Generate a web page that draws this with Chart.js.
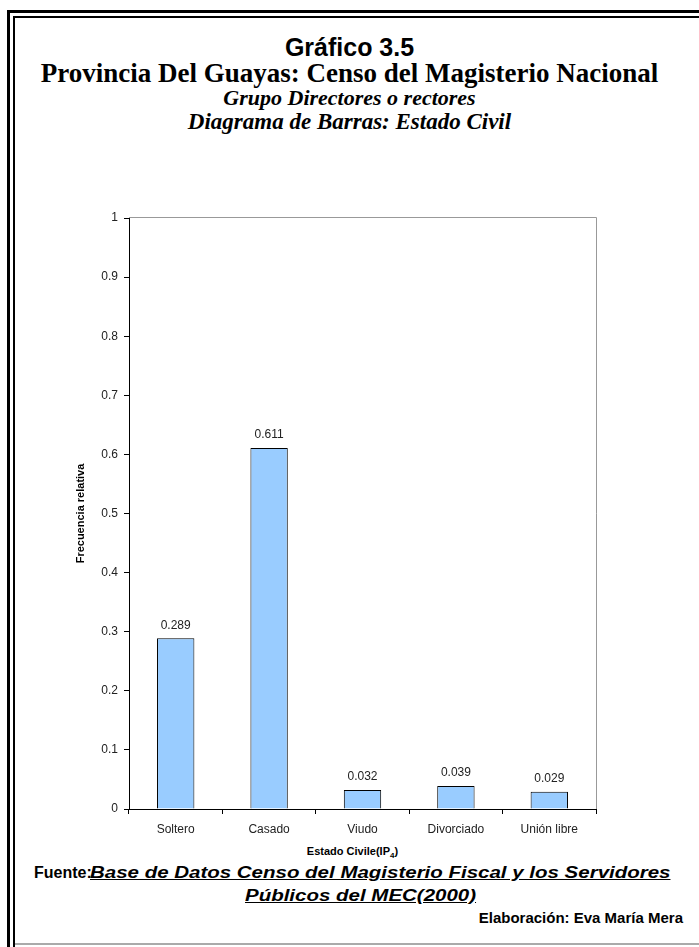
<!DOCTYPE html>
<html>
<head>
<meta charset="utf-8">
<script src="https://cdn.jsdelivr.net/npm/chart.js@4/dist/chart.umd.min.js"></script>
<style>
html, body { margin: 0; background: #fff; overflow: hidden; }
body { width: 699px; height: 947px; position: relative; }
.frame-out { position: absolute; left: 7px; top: 10px; width: 689px; height: 937px; border-left: 3px solid #000; border-top: 3px solid #000; }
.frame-in { position: absolute; left: 13px; top: 16px; width: 684px; height: 931px; border-left: 2px solid #000; border-top: 2px solid #000; }
.bottom-line { position: absolute; left: 15px; top: 943px; width: 684px; height: 0; border-top: 2px solid #aaa; }
.t { position: absolute; left: 0; width: 699px; text-align: center; color: #000; white-space: nowrap; }
.arial { font-family: "Liberation Sans", Arial, sans-serif; }
.times { font-family: "Liberation Serif", "Times New Roman", serif; }
.src { position: absolute; white-space: nowrap; font-family: "Liberation Sans", Arial, sans-serif; font-size: 16px; font-weight: bold; font-style: italic; text-decoration: underline; transform-origin: 0 0; transform: scaleX(1.28); }
#wrap { position: absolute; left: 40px; top: 200px; width: 580px; height: 639px; }
</style>
</head>
<body>
<div class="frame-out"></div>
<div class="frame-in"></div>
<div class="bottom-line"></div>

<div class="t arial" style="top:33px;font-size:25px;font-weight:bold;">Gráfico 3.5</div>
<div class="t times" style="top:58px;font-size:27px;line-height:31px;font-weight:bold;">Provincia Del Guayas: Censo del Magisterio Nacional</div>
<div class="t times" style="top:85px;font-size:22px;font-weight:bold;font-style:italic;">Grupo Directores o rectores</div>
<div class="t times" style="top:109px;font-size:23px;font-weight:bold;font-style:italic;">Diagrama de Barras: Estado Civil</div>

<div id="wrap"><canvas id="chart" width="580" height="639"></canvas></div>

<div class="t arial" style="top:845px;left:3px;font-size:11px;font-weight:bold;">Estado Civile(IP<sub style="font-size:8px;">4</sub>)</div>

<div class="arial" style="position:absolute;left:34px;top:864px;font-size:16px;font-weight:bold;">Fuente:</div>
<div class="src" style="left:90px;top:864px;">Base de Datos Censo del Magisterio Fiscal y los Servidores</div>
<div class="src" style="left:245px;top:887px;">Públicos del MEC(2000)</div>
<div class="t arial" style="top:909px;left:0;width:683px;text-align:right;font-size:15px;font-weight:bold;">Elaboración: Eva María Mera</div>

<script>
var categories = ["Soltero", "Casado", "Viudo", "Divorciado", "Unión libre"];
var frecuencias = [0.289, 0.611, 0.032, 0.039, 0.029];
var yTicks = [0, 0.1, 0.2, 0.3, 0.4, 0.5, 0.6, 0.7, 0.8, 0.9, 1];

// gray plot-area border (top and right)
var plotBorder = {
  id: 'plotBorder',
  beforeDraw: function(chart) {
    var a = chart.chartArea, c = chart.ctx;
    c.save();
    c.strokeStyle = '#999';
    c.lineWidth = 1;
    c.beginPath();
    c.moveTo(a.left, a.top - 0.5);
    c.lineTo(a.right + 0.5, a.top - 0.5);
    c.lineTo(a.right + 0.5, a.bottom);
    c.stroke();
    c.restore();
  }
};

// value labels above the bars
var valueLabels = {
  id: 'valueLabels',
  afterDatasetsDraw: function(chart) {
    var c = chart.ctx;
    var meta = chart.getDatasetMeta(0);
    c.save();
    c.font = '12px "Liberation Sans", Arial, sans-serif';
    c.fillStyle = '#222';
    c.textAlign = 'center';
    c.textBaseline = 'bottom';
    meta.data.forEach(function(bar, i) {
      c.fillText(frecuencias[i].toFixed(3), bar.x, bar.y - 7);
    });
    c.restore();
  }
};

var ctx = document.getElementById("chart").getContext('2d');
var myChart = new Chart(ctx, {
  type: 'bar',
  data: {
    labels: categories,
    datasets: [{
      data: frecuencias,
      backgroundColor: '#99CCFF',
      borderColor: '#000',
      borderWidth: 1,
      barPercentage: 0.4,
      categoryPercentage: 1
    }]
  },
  options: {
    responsive: false,
    animation: false,
    layout: { padding: { top: 18, right: 24, left: 0, bottom: 0 } },
    plugins: { legend: { display: false }, tooltip: { enabled: false } },
    scales: {
      x: {
        grid: { drawOnChartArea: false, offset: true, tickLength: 5, color: '#000' },
        border: { color: '#000' },
        ticks: { color: '#222', padding: 8, maxRotation: 0, font: { family: '"Liberation Sans", Arial, sans-serif', size: 12 } },
        afterFit: function(s) { s.height = 30; }
      },
      y: {
        min: 0,
        max: 1,
        afterBuildTicks: function(s) { s.ticks = yTicks.map(function(v) { return { value: v }; }); },
        grid: { drawOnChartArea: false, tickLength: 5, color: '#000' },
        border: { color: '#000' },
        ticks: {
          color: '#222', padding: 6,
          font: { family: '"Liberation Sans", Arial, sans-serif', size: 12 },
          callback: function(v) { return String(Math.round(v * 10) / 10); }
        },
        title: {
          display: true, text: 'Frecuencia relativa', color: '#000',
          font: { family: '"Liberation Sans", Arial, sans-serif', size: 11, weight: 'bold' },
          padding: { top: 34, bottom: 0 }
        },
        afterFit: function(s) { s.width = 89; }
      }
    }
  },
  plugins: [plotBorder, valueLabels]
});
</script>
</body>
</html>
